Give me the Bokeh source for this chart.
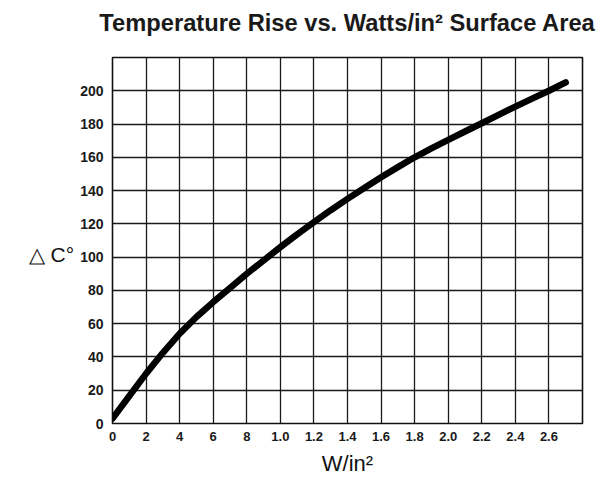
from bokeh.plotting import figure
from bokeh.models import Range1d, FixedTicker, LinearAxis
from bokeh.embed import file_html
from bokeh.resources import INLINE

# ---- data ----
watts_per_in2 = [0.0, 0.1, 0.2, 0.3, 0.4, 0.5, 0.6, 0.7, 0.8, 0.9, 1.0, 1.1, 1.2, 1.3,
                 1.4, 1.5, 1.6, 1.7, 1.8, 1.9, 2.0, 2.1, 2.2, 2.3, 2.4, 2.5, 2.6, 2.7]
temp_rise_c = [3, 16.5, 30, 42.5, 54, 64, 73, 81.5, 90, 98, 106, 113.7, 121, 128.2,
               135, 141.6, 148, 154.1, 160, 165.4, 170.5, 175.5, 180.5, 185.5, 190.5, 195.3, 200, 205]

x_tick_values = [0, 0.2, 0.4, 0.6, 0.8, 1.0, 1.2, 1.4, 1.6, 1.8, 2.0, 2.2, 2.4, 2.6]
x_tick_labels = ["0", "2", "4", "6", "8", "1.0", "1.2", "1.4", "1.6", "1.8",
                 "2.0", "2.2", "2.4", "2.6"]
x_grid_values = [0, 0.2, 0.4, 0.6, 0.8, 1.0, 1.2, 1.4, 1.6, 1.8, 2.0, 2.2, 2.4, 2.6, 2.8]
y_tick_values = [0, 20, 40, 60, 80, 100, 120, 140, 160, 180, 200]
y_grid_values = [0, 20, 40, 60, 80, 100, 120, 140, 160, 180, 200, 220]

title_text = "Temperature Rise vs. Watts/in\u00b2 Surface Area"
x_label_text = "W/in\u00b2"
y_label_text = "\n\u25b3 C\u00b0"

FONT = "Liberation Sans"

p = figure(width=600, height=470, output_backend="svg", toolbar_location=None,
           x_range=Range1d(0, 2.8), y_range=Range1d(0, 220),
           frame_width=470, frame_height=366,
           min_border_left=112, min_border_right=18, min_border_top=57, min_border_bottom=47)
p.background_fill_color = "white"
p.border_fill_color = "white"
p.outline_line_color = "#111111"
p.outline_line_width = 1.6

bottom_axis = p.below[0]
left_axis = p.left[0]

# axes
bottom_axis.ticker = FixedTicker(ticks=x_tick_values)
bottom_axis.major_label_overrides = dict(zip(x_tick_values, x_tick_labels))
left_axis.ticker = FixedTicker(ticks=y_tick_values)
for ax in (bottom_axis, left_axis):
    ax.axis_line_color = None
    ax.major_tick_line_color = None
    ax.minor_tick_line_color = None
    ax.major_tick_in = 0
    ax.major_tick_out = 0
    ax.minor_tick_in = 0
    ax.minor_tick_out = 0
    ax.major_label_text_font = FONT
    ax.major_label_text_color = "#1a1a1a"
    ax.major_label_text_font_style = "bold"
bottom_axis.major_label_text_font_size = "13px"
left_axis.major_label_text_font_size = "14px"
bottom_axis.major_label_standoff = 8
left_axis.major_label_standoff = 9

bottom_axis.axis_label = x_label_text
bottom_axis.axis_label_text_font = FONT
bottom_axis.axis_label_text_font_style = "normal"
bottom_axis.axis_label_text_font_size = "22px"
bottom_axis.axis_label_text_color = "#111111"
bottom_axis.axis_label_standoff = 7

left_axis.axis_label = y_label_text
left_axis.axis_label_orientation = "horizontal"
left_axis.axis_label_text_font = FONT
left_axis.axis_label_text_font_style = "normal"
left_axis.axis_label_text_font_size = "21px"
left_axis.axis_label_text_color = "#111111"
left_axis.axis_label_standoff = 3

# title drawn as the label of an empty axis above the frame
top_axis = LinearAxis(ticker=FixedTicker(ticks=[]), axis_line_color=None,
                      major_tick_line_color=None, minor_tick_line_color=None,
                      major_tick_in=0, major_tick_out=0, minor_tick_in=0, minor_tick_out=0,
                      major_label_text_font_size="0px",
                      axis_label=title_text, axis_label_text_font=FONT,
                      axis_label_text_font_style="bold", axis_label_text_font_size="23.7px",
                      axis_label_text_color="#1a1a1a", axis_label_standoff=22)
p.add_layout(top_axis, "above")

# grid
p.xgrid.ticker = FixedTicker(ticks=x_grid_values)
p.ygrid.ticker = FixedTicker(ticks=y_grid_values)
for g in (p.xgrid[0], p.ygrid[0]):
    g.grid_line_color = "#1a1a1a"
    g.grid_line_width = 1.3
    g.grid_line_alpha = 1.0

# curve
p.line(watts_per_in2, temp_rise_c, line_color="black", line_width=6.5,
       line_cap="round", line_join="round")

open("out.html", "w").write(file_html(p, INLINE))
